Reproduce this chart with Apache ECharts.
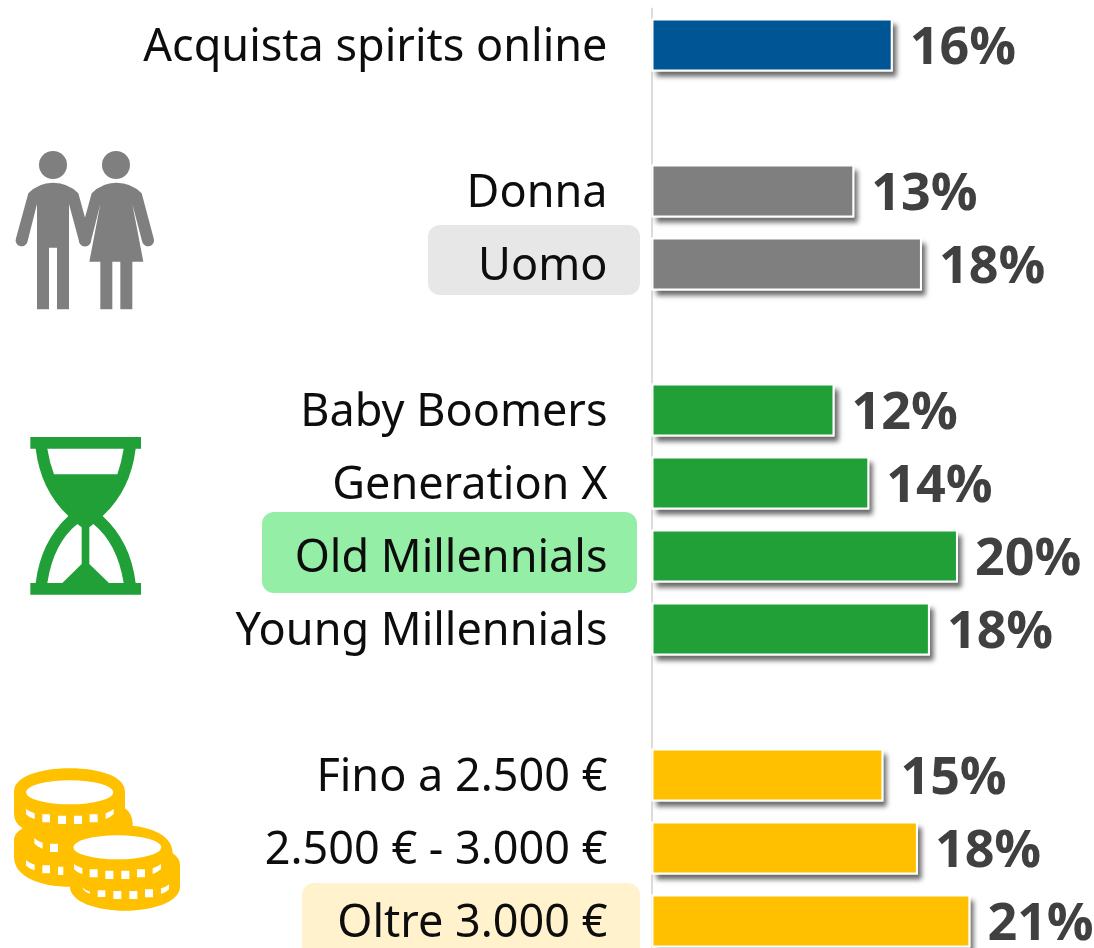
<!DOCTYPE html>
<html><head><meta charset="utf-8">
<style>html,body{margin:0;padding:0;background:#fff;overflow:hidden;height:948px}#c{width:1094px;height:970px}</style>
<script src="https://cdn.jsdelivr.net/npm/echarts@6/dist/echarts.min.js"></script>
</head><body><div id="c"></div>
<script>
const categories = ["Acquista spirits online","","Donna","Uomo","","Baby Boomers","Generation X","Old Millennials","Young Millennials","","Fino a 2.500 €","2.500 € - 3.000 €","Oltre 3.000 €"];
const values = [16.08,null,13.52,18.03,null,12.2,14.52,20.43,18.56,null,15.46,17.76,21.26];
const shownLabels = ["16%","","13%","18%","","12%","14%","20%","18%","","15%","18%","21%"];
const barColors = ["#005595","","#7f7f7f","#7f7f7f","","#21a038","#21a038","#21a038","#21a038","","#ffc000","#ffc000","#ffc000"];

const GREY="#7f7f7f",GREEN="#21a038",GOLD="#ffc000";
const man="M85,190Q115,158 159,158Q205,158 235,190L272,325A18,18 0 0 1 238,337L207,222L207,538L171,538L171,353L147,353L147,538L111,538L111,222L82,337A18,18 0 0 1 48,325Z";
const woman="M275,190Q305,158 349,158Q395,158 425,190L461,325A18,18 0 0 1 427,337L397,222L430,395L397,395L397,538L361,538L361,395L337,395L337,538L301,538L301,395L268,395L301,222L272,337A18,18 0 0 1 238,325Z";
const glass="M91,51L423,51L423,86L407,86Q392,210 308,288Q392,365 407,489L423,489L423,524L91,524L91,489L107,489Q122,365 205,288Q122,210 107,86L91,86Z";
const glassHoles="M142,86L371,86Q365,125 352,163L162,163Q148,125 142,86ZM232,312L245,322L245,432L187,489L142,489Q160,370 232,312ZM280,312L268,322L268,432L327,489L371,489Q352,370 280,312Z";
const coinLeft="M42,125C42,80 120,55 209,55C300,55 375,80 375,125L375,175Q398,190 398,225L398,300L210,410C120,410 42,380 42,320L42,270Q42,250 68,235Q42,220 42,190Z";
const coinRight="M210,300C210,250 280,225 352,225C440,225 518,250 518,310Q540,325 540,345L540,410C540,455 460,482 375,482C290,482 210,455 210,410Z";
const ell=(cx,cy,rx,ry)=>`M${cx-rx},${cy}A${rx},${ry} 0 1 1 ${cx+rx},${cy}A${rx},${ry} 0 1 1 ${cx-rx},${cy}Z`;
const box=(a,b,c,d)=>`M${a},${b}L${c},${b}L${c},${d}L${a},${d}Z`;
const coinHoles=ell(209,127,131,36)+ell(352,292,132,36)+
 "M78,177Q88,185 104,190L104,207Q86,202 78,192Z"+box(127,193,150,217)+box(174,197,198,222)+box(222,197,246,222)+box(269,193,293,217)+"M317,190Q332,185 341,177L341,192Q332,202 317,207Z"+
 "M103,265Q112,273 128,278L128,296Q110,290 103,280Z"+box(150,281,174,306)+
 "M78,331Q88,339 104,344L104,361Q86,356 78,346Z"+box(127,346,150,370)+box(174,350,190,375)+
 "M222,342Q232,350 247,355L247,372Q230,367 222,357Z"+box(269,358,293,382)+box(316,362,340,387)+box(364,362,388,387)+box(411,358,435,382)+"M458,355Q473,350 483,342L483,357Q473,367 458,372Z"+
 "M246,411Q256,422 270,425L270,431Q254,428 246,411Z"+box(293,421,316,441)+box(340,423,364,447)+box(388,423,412,447)+box(435,418,459,442)+"M483,415Q498,412 507,403L507,418Q498,428 483,432Z";
const icons=[[man,GREY,130],[woman,GREY,130],[glass,GREEN,420],[glassHoles,"#fff",420],[coinLeft,GOLD,750],[coinRight,GOLD,750],[coinHoles,"#fff",750]];
const highlight=(x,y,w,h,fill)=>({type:"rect",z:-1,shape:{x,y,width:w,height:h,r:12},style:{fill}});

const chart=echarts.init(document.getElementById("c"),null,{renderer:"canvas"});
chart.setOption({
 animation:false,
 backgroundColor:"#fff",
 grid:{left:651.5,top:8.5,width:420,height:949,containLabel:false},
 xAxis:{type:"value",min:0,max:28,show:false},
 yAxis:{type:"category",inverse:true,data:categories,
  axisLine:{show:true,lineStyle:{color:"#dcdcdc",width:2}},axisTick:{show:false},splitLine:{show:false},
  axisLabel:{interval:0,margin:44,align:"right",color:"#0d0d0d",fontFamily:"Noto Sans",fontSize:45,verticalAlign:"top",lineHeight:6}},
 series:[
  {type:"bar",barWidth:53,barGap:"-100%",clip:false,z:2,silent:true,data:values,
   itemStyle:{color:"#fff",shadowColor:"rgba(0,0,0,0.6)",shadowBlur:5,shadowOffsetX:4,shadowOffsetY:5}},
  {type:"bar",barWidth:53,barGap:"-100%",clip:false,z:3,
   data:values.map((v,i)=>({value:v,itemStyle:{color:barColors[i]}})),
   itemStyle:{borderColor:"#fff",borderWidth:2},
   label:{show:true,position:"right",distance:17,offset:[0,4],color:"#404040",fontFamily:"Open Sans",fontWeight:"bold",fontSize:52,
    formatter:q=>shownLabels[q.dataIndex]}},
  {type:"custom",coordinateSystem:"none",silent:true,z:5,data:icons.map((_,i)=>i),clip:false,
   renderItem:(params)=>{const [d,fill,y]=icons[params.dataIndex];
    return {type:"path",shape:{pathData:"M0,0"+d+"M600,600",layout:"cover",x:0,y:y,width:200,height:200},style:{fill}};}}
 ],
 graphic:{elements:[
  highlight(428,225,212,70,"#e7e7e7"),
  highlight(262,512,375,81,"#95eea6"),
  highlight(302,883,338,80,"#fff2cc"),
  {type:"circle",z:5,shape:{cx:53,cy:165,r:14},style:{fill:GREY}},
  {type:"circle",z:5,shape:{cx:116,cy:165,r:14},style:{fill:GREY}}
 ]}
});
</script></body></html>
